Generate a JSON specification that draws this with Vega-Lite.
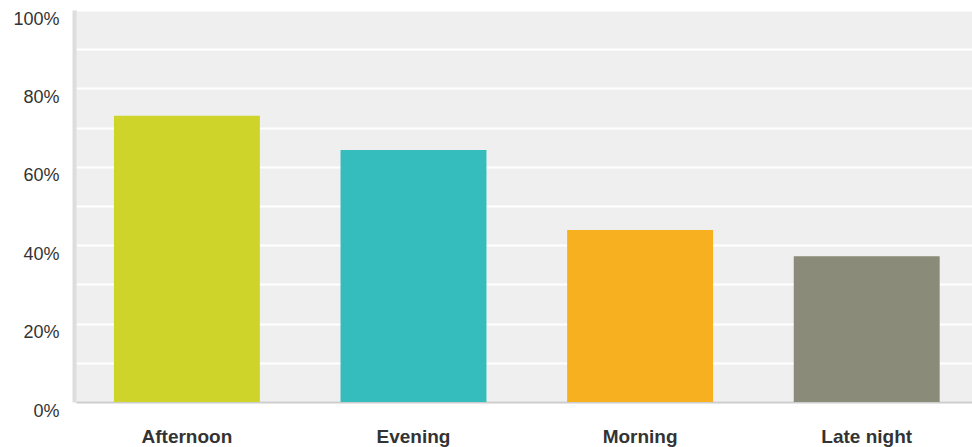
{
  "$schema": "https://vega.github.io/schema/vega-lite/v6.json",
  "autosize": "none",
  "width": 896,
  "height": 392,
  "padding": {"left": 76, "top": 10, "right": 0, "bottom": 45},
  "background": "white",
  "config": {
    "view": {"fill": "#efefef", "stroke": null},
    "font": "Liberation Sans"
  },
  "data": {
    "values": [
      {"time": "Afternoon", "share": 0.73},
      {"time": "Evening", "share": 0.643},
      {"time": "Morning", "share": 0.439},
      {"time": "Late night", "share": 0.372}
    ]
  },
  "mark": {"type": "bar"},
  "encoding": {
    "x": {
      "field": "time",
      "type": "nominal",
      "sort": null,
      "scale": {"paddingInner": 0.356, "paddingOuter": 0.155, "align": 0.54},
      "axis": {
        "title": null,
        "labelAngle": 0,
        "labelFont": "Liberation Sans",
        "labelFontSize": 19,
        "labelFontWeight": "bold",
        "labelColor": "#333333",
        "labelPadding": 25,
        "ticks": false,
        "domainColor": "#cccccc",
        "domainWidth": 2,
        "grid": false
      }
    },
    "y": {
      "field": "share",
      "type": "quantitative",
      "scale": {"domain": [0, 1], "nice": false},
      "axis": {
        "title": null,
        "values": [0, 0.1, 0.2, 0.3, 0.4, 0.5, 0.6, 0.7, 0.8, 0.9, 1],
        "format": ".0%",
        "labelExpr": "round(datum.value * 10) % 2 == 0 ? datum.label : ''",
        "labelFont": "Liberation Sans",
        "labelFontSize": 18,
        "labelColor": "#333333",
        "labelOffset": 9,
        "labelFlush": false,
        "labelPadding": 15,
        "ticks": false,
        "offset": 2,
        "domainColor": "#dddddd",
        "domainWidth": 4,
        "grid": true,
        "gridColor": "#ffffff",
        "gridWidth": 2,
        "gridOpacity": 1
      }
    },
    "color": {
      "field": "time",
      "type": "nominal",
      "sort": null,
      "scale": {
        "domain": ["Afternoon", "Evening", "Morning", "Late night"],
        "range": ["#cfd42a", "#35bdbe", "#f7b01f", "#8a8b79"]
      },
      "legend": null
    }
  }
}
